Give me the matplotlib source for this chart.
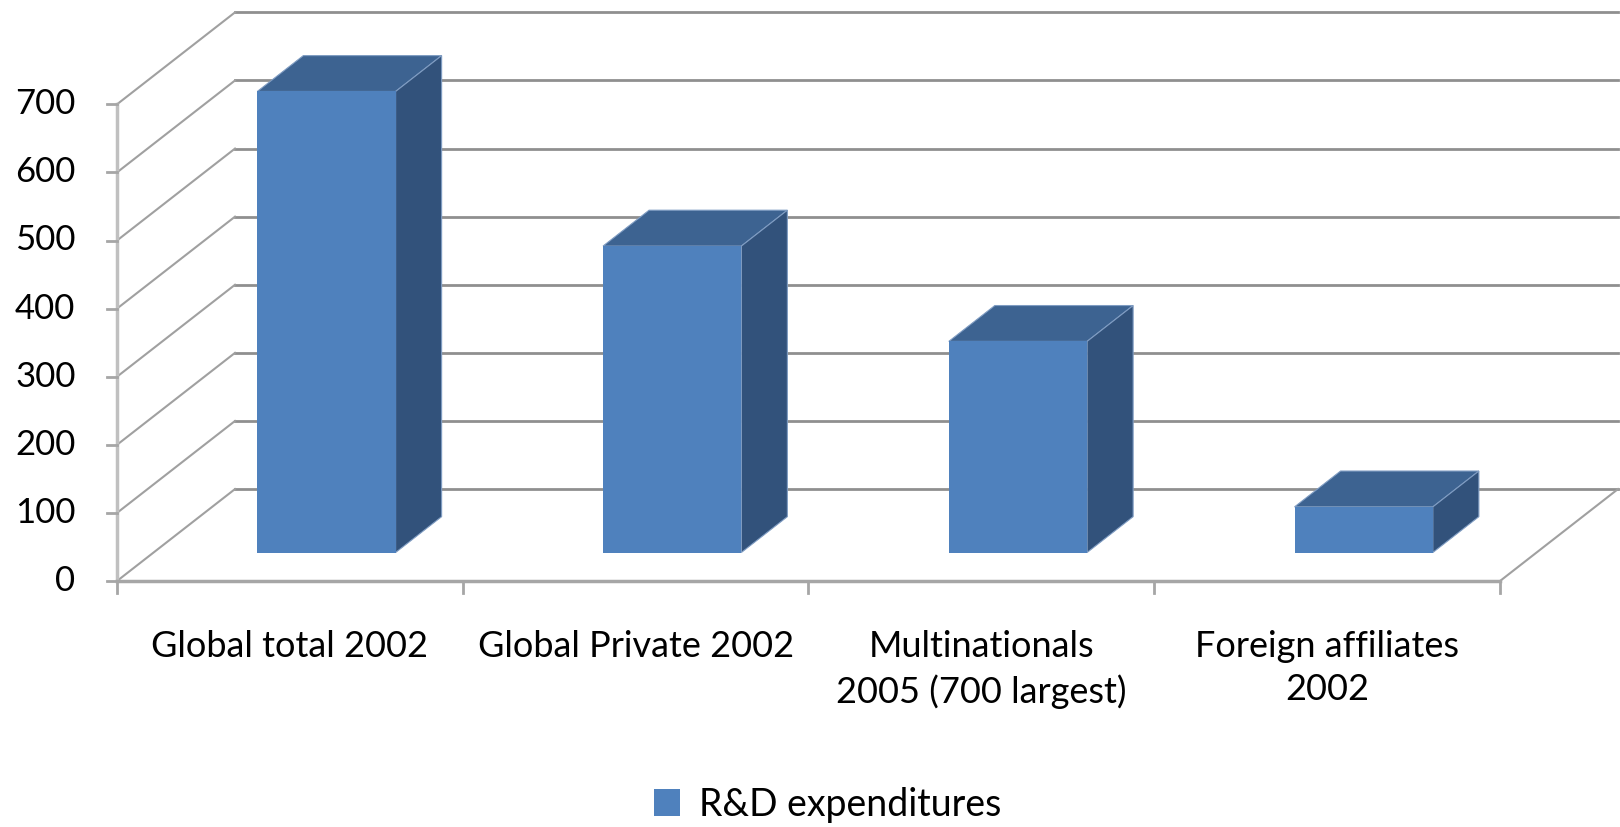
import matplotlib
matplotlib.use("Agg")
import matplotlib.pyplot as plt
from matplotlib.patches import Polygon

plt.rcParams['font.family'] = ['Lato', 'DejaVu Sans']

# R&D expenditures (billions of dollars)
categories = ["Global total 2002", "Global Private 2002",
              "Multinationals\n2005 (700 largest)", "Foreign affiliates\n2002"]
values = [677, 450, 310, 67]
y_ticks = [0, 100, 200, 300, 400, 500, 600, 700]

front_col = '#4F81BD'
top_col = '#3D6391'
side_col = '#32527B'

# oblique depth of the whole box and of the bars (in data units)
depth_x, depth_y = 0.3413, 135.0
bar_front, bar_back = 0.31, 0.70
bar_w = 0.40

fig = plt.figure(figsize=(16.2, 8.27), dpi=100)
ax = fig.add_axes([0, 0, 1, 1])
ax.set_xlim(-117 / 345.75, (1620 - 117) / 345.75)
ax.set_ylim(-246 / 0.681, (827 - 246) / 0.681)
ax.axis('off')

n = len(categories)

# back wall gridlines + left wall diagonals
for v in y_ticks:
    ax.plot([depth_x, n + depth_x], [v + depth_y, v + depth_y], color='#8f8f8f', lw=2, zorder=1)
    ax.plot([0, depth_x], [v, v + depth_y], color='#a0a0a0', lw=1.5, zorder=1)
# floor right edge
ax.plot([n, n + depth_x], [0, depth_y], color='#a0a0a0', lw=1.5, zorder=1)

# front axes
ax.plot([0, 0], [0, max(y_ticks)], color='#c0c0c0', lw=2.5, zorder=2)
ax.plot([0, n], [0, 0], color='#a6a6a6', lw=2.5, zorder=2)
for v in y_ticks:
    ax.plot([-0.029, 0], [v, v], color='#a6a6a6', lw=2, zorder=2)
    ax.text(-0.12, v, str(v), ha='right', va='center', fontsize=25, color='black')
for i in range(n + 1):
    ax.plot([i, i], [0, -18], color='#a6a6a6', lw=2, zorder=2)

# bars
fx, fy = bar_front * depth_x, bar_front * depth_y
dbx, dby = (bar_back - bar_front) * depth_x, (bar_back - bar_front) * depth_y
centers = [i + 0.5 + fx for i in range(n)]
bars = ax.bar(centers, values, width=bar_w, bottom=fy, color=front_col,
              zorder=5, label='R&D expenditures')
for c, v in zip(centers, values):
    xl, xr = c - bar_w / 2, c + bar_w / 2
    top = v + fy
    ax.add_patch(Polygon([(xl, top), (xr, top), (xr + dbx, top + dby), (xl + dbx, top + dby)],
                         closed=True, facecolor=top_col, edgecolor='#7f9cc2', lw=0.8, zorder=4))
    ax.add_patch(Polygon([(xr, fy), (xr, top), (xr + dbx, top + dby), (xr + dbx, fy + dby)],
                         closed=True, facecolor=side_col, edgecolor='#7f9cc2', lw=0.8, zorder=4))

# category labels
for i, lab in enumerate(categories):
    ax.text(i + 0.5, (581 - 630) / 0.681, lab, ha='center', va='top', fontsize=26,
            linespacing=1.38, color='black')

fig.legend(handles=[bars], loc='center', bbox_to_anchor=(0.511, 0.027), frameon=False,
           fontsize=27, handlelength=0.7, handleheight=0.7, handletextpad=0.5)

fig.savefig('out.png', dpi=100)
